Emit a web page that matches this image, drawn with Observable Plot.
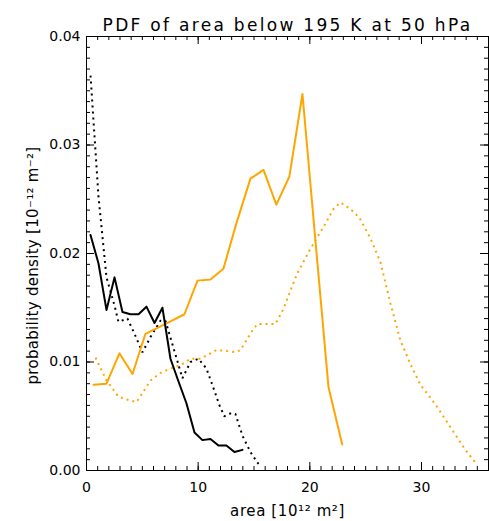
<!DOCTYPE html>
<html><head><meta charset="utf-8">
<script src="https://cdn.jsdelivr.net/npm/d3@7"></script>
<script src="https://cdn.jsdelivr.net/npm/@observablehq/plot@0.6"></script>
<style>body{margin:0;background:#fff}</style>
</head><body><div id="chart"></div>
<script>
const title = "PDF of area below 195 K at 50 hPa";
const xLabel = "area [10¹² m²]";
const yLabel = "probability density [10⁻¹² m⁻²]";
const xMajor = [0, 10, 20, 30];
const yMajor = [0, 0.01, 0.02, 0.03, 0.04];

const blackSolidX = [0.36,1.07,1.79,2.51,3.22,3.94,4.66,5.37,6.09,6.80,7.52,8.24,8.95,9.67,10.38,11.10,11.82,12.53,13.25,13.97];
const blackSolidY = [0.0217,0.0191,0.0148,0.0178,0.0146,0.0144,0.0144,0.0151,0.0136,0.0150,0.0103,0.0082,0.0062,0.0035,0.0028,0.0029,0.0023,0.0023,0.0017,0.0019];

const blackDotX = [0.36,1.07,1.79,2.51,2.86,3.67,4.30,5.01,5.73,6.62,7.07,7.79,8.59,9.31,10.03,10.74,11.37,11.91,12.35,12.98,13.34,13.97,14.68,15.4];
const blackDotY = [0.0364,0.0253,0.0178,0.0152,0.0137,0.0140,0.0126,0.0109,0.0123,0.0138,0.0138,0.0113,0.0085,0.0100,0.0103,0.0094,0.0076,0.0060,0.0050,0.0053,0.0052,0.0032,0.0017,0.0006];

const orangeSolidX = [0.63,1.79,2.95,4.12,5.28,6.45,7.61,8.77,9.94,11.1,12.26,13.43,14.68,15.85,17.0,18.17,19.34,20.5,21.67,22.9];
const orangeSolidY = [0.0079,0.0080,0.0108,0.0089,0.0126,0.0132,0.0138,0.0144,0.0175,0.0176,0.0186,0.0228,0.0269,0.0277,0.0245,0.0271,0.0347,0.0212,0.0077,0.0024];

const orangeDotX = [0.81,1.79,2.86,3.76,4.48,5.73,6.63,7.52,8.42,9.31,10.21,11.1,11.64,12.71,13.34,13.79,14.86,15.31,16.92,17.64,18.8,19.87,21.31,22.11,22.74,23.63,24.44,25.43,26.32,27.22,28.11,29.01,29.9,31.24,32.59,33.93,35.0];
const orangeDotY = [0.0104,0.0083,0.0068,0.0065,0.0063,0.0083,0.0090,0.0094,0.0097,0.0103,0.0103,0.0108,0.0111,0.0110,0.0109,0.0111,0.0129,0.0135,0.0135,0.0149,0.0180,0.0201,0.0226,0.0241,0.0247,0.0241,0.0233,0.0214,0.0192,0.0154,0.0120,0.0098,0.0079,0.0061,0.0040,0.0019,0.0005];

const xMinor = d3.range(0, 37, 1);
const yMinor = d3.range(0, 41).map(i => i / 1000);

const W = 489, H = 521, mt = 36, mb = 51, ml = 86, mr = 1;
const fw = W - ml - mr, fh = H - mt - mb;
const pts = (xs, ys) => xs.map((x, i) => ({x, y: ys[i]}));
const orange = "#FFA500";
const dotted = {strokeWidth: 2, strokeDasharray: "2,4", strokeLinecap: "butt", strokeLinejoin: "miter"};

const chart = Plot.plot({
  width: W, height: H, marginTop: mt, marginBottom: mb, marginLeft: ml, marginRight: mr,
  style: {fontFamily: "'DejaVu Sans', sans-serif", fontSize: "14px", background: "white", color: "black"},
  x: {domain: [0, 36]},
  y: {domain: [0, 0.04]},
  marks: [
    Plot.tickX(xMinor, {x: d => d, insetTop: fh - 4}),
    Plot.tickX(xMinor, {x: d => d, insetBottom: fh - 4}),
    Plot.tickX(xMajor, {x: d => d, insetTop: fh - 8}),
    Plot.tickX(xMajor, {x: d => d, insetBottom: fh - 8}),
    Plot.tickY(yMinor, {y: d => d, insetRight: fw - 4}),
    Plot.tickY(yMinor, {y: d => d, insetLeft: fw - 4}),
    Plot.tickY(yMajor, {y: d => d, insetRight: fw - 8}),
    Plot.tickY(yMajor, {y: d => d, insetLeft: fw - 8}),
    Plot.axisX({ticks: xMajor, tickSize: 0, tickPadding: 12, tickFormat: d => String(d), label: null}),
    Plot.axisY({ticks: yMajor, tickSize: 0, tickPadding: 6, tickFormat: d3.format(".2f"), label: null}),
    Plot.line(pts(orangeDotX, orangeDotY), {x: "x", y: "y", stroke: orange, ...dotted}),
    Plot.line(pts(blackDotX, blackDotY), {x: "x", y: "y", stroke: "black", ...dotted}),
    Plot.line(pts(orangeSolidX, orangeSolidY), {x: "x", y: "y", stroke: orange, strokeWidth: 2}),
    Plot.line(pts(blackSolidX, blackSolidY), {x: "x", y: "y", stroke: "black", strokeWidth: 2}),
    Plot.frame({stroke: "black"}),
    Plot.text([title], {text: d => d, frameAnchor: "top", dy: -18, fontSize: 17, className: "ttl"}),
    Plot.text([xLabel], {text: d => d, frameAnchor: "bottom", dy: 45, fontSize: 15, className: "xlab"}),
    Plot.text([yLabel], {text: d => d, frameAnchor: "left", textAnchor: "middle", dx: -53, dy: 12, rotate: -90, fontSize: 15, className: "ylab"})
  ]
});
d3.select(chart).selectAll(".ttl text").style("letter-spacing", "2.3px");
d3.select(chart).selectAll(".xlab text").style("letter-spacing", "0.6px");
d3.select(chart).selectAll(".ylab text").style("letter-spacing", "0.3px");
document.getElementById("chart").appendChild(chart);
</script>
</body></html>
